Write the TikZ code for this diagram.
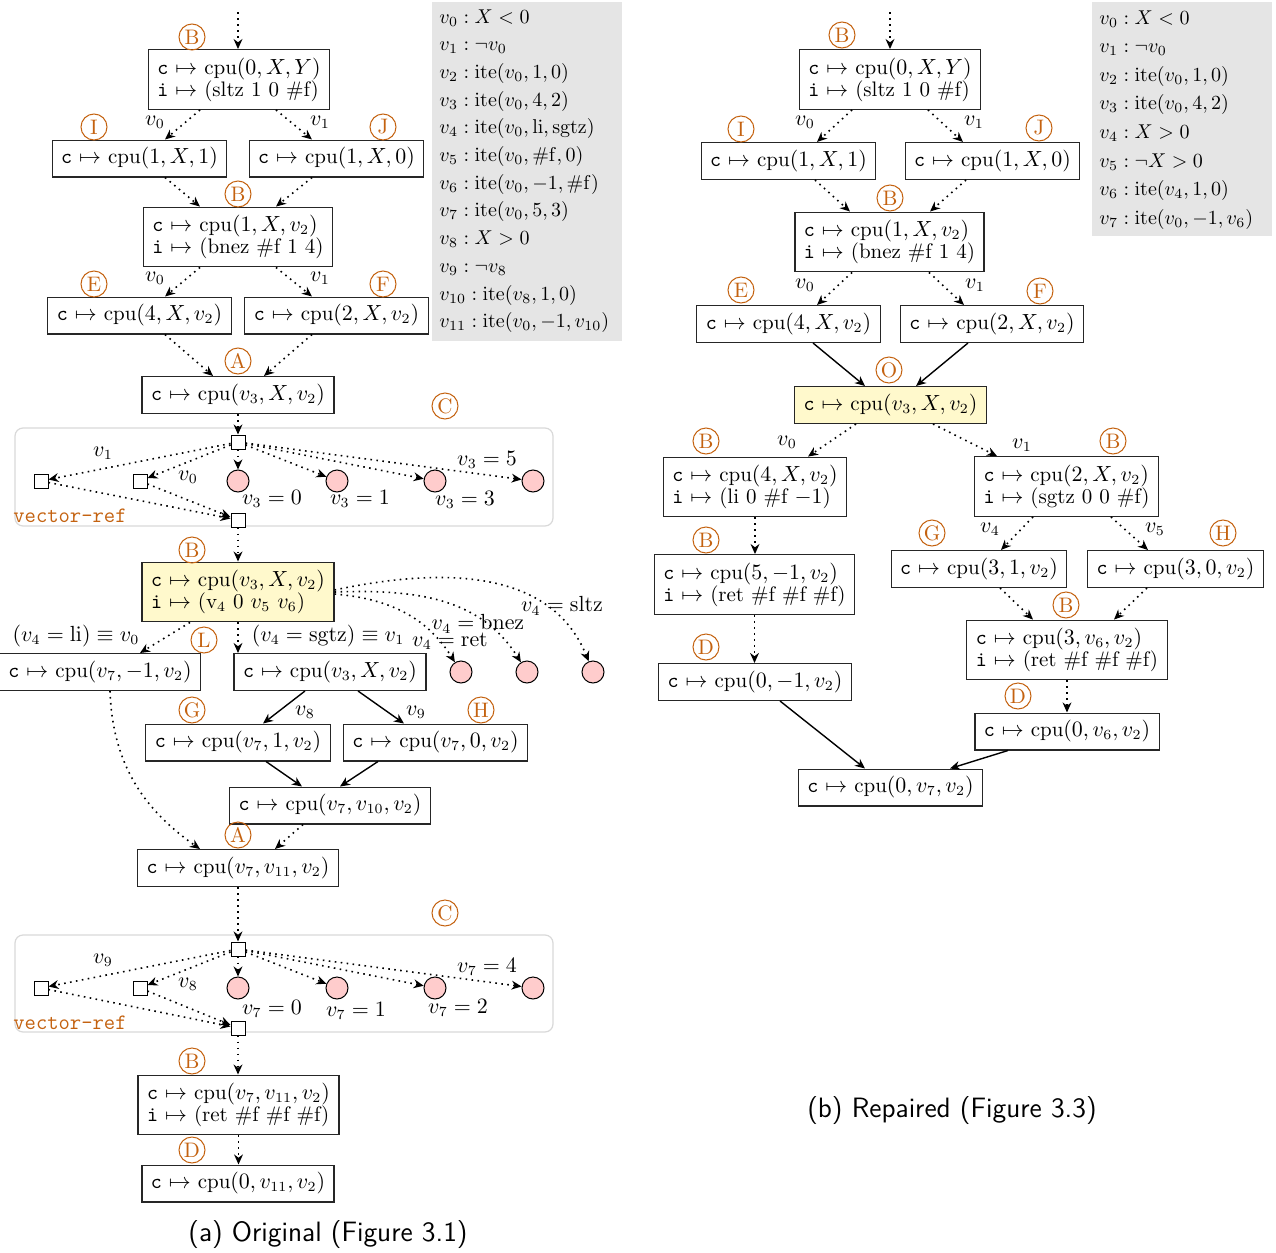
\documentclass[tikz,border=0pt]{standalone}
\usetikzlibrary{arrows.meta,calc}
\definecolor{labc}{RGB}{196,98,16}
\definecolor{yel}{RGB}{255,249,204}
\definecolor{legbg}{RGB}{229,229,229}
\definecolor{pinkc}{RGB}{255,204,204}
\newcommand\cMapTo{\texttt{c}~$\mapsto$~}
\newcommand\iMapTo{\texttt{i}~$\mapsto$~}
\tikzset{
  x=0.5pt, y=-0.5pt,
  base/.style={font=\fontsize{10.5}{11}\selectfont},
  box/.style={base, draw=black!85, line width=0.6pt, inner xsep=4.5pt, inner ysep=4pt, fill=white},
  sbox/.style={box, text height=7.8pt, text depth=2.6pt},
  dbox/.style={box, align=left},
  ybox/.style={fill=yel},
  lab/.style={circle, draw=labc, text=labc, line width=0.5pt, inner sep=0pt, minimum size=13pt, font=\fontsize{10.5}{11}\selectfont},
  el/.style={base, inner sep=0pt},
  arr/.style={-{Stealth[length=5pt,width=4.4pt,inset=1.6pt]}, line width=0.7pt},
  dotarr/.style={arr, dash pattern=on 0.8pt off 2.2pt, line width=0.8pt},
  vsq/.style={draw, fill=white, line width=0.5pt, minimum size=7pt, inner sep=0pt},
  pc/.style={circle, draw, fill=pinkc, line width=0.5pt, minimum size=11pt, inner sep=0pt},
  vrbox/.style={draw=black!15, fill=white, rounded corners=4pt, line width=0.6pt},
  vrlab/.style={font=\ttfamily\fontsize{11}{12}\selectfont, text=labc, inner sep=0pt},
  legline/.style={font=\fontsize{10.2}{11}\selectfont, inner sep=0pt, anchor=base west},
  capt/.style={font=\sffamily\fontsize{14}{16}\selectfont, inner sep=0pt}
}
\begin{document}
\begin{tikzpicture}
\useasboundingbox (0,0) rectangle (1276,1253);

% ---------------- legends ----------------
\fill[legbg] (432,2) rectangle (622,341);
\foreach \t [count=\k from 0] in {
  {$v_0 : X < 0$},
  {$v_1 : \neg v_0$},
  {$v_2 : \mathrm{ite}(v_0, 1, 0)$},
  {$v_3 : \mathrm{ite}(v_0, 4, 2)$},
  {$v_4 : \mathrm{ite}(v_0, \mathrm{li}, \mathrm{sgtz})$},
  {$v_5 : \mathrm{ite}(v_0, \mathrm{\#f}, 0)$},
  {$v_6 : \mathrm{ite}(v_0, -1, \mathrm{\#f})$},
  {$v_7 : \mathrm{ite}(v_0, 5, 3)$},
  {$v_8 : X > 0$},
  {$v_9 : \neg v_8$},
  {$v_{10} : \mathrm{ite}(v_8, 1, 0)$},
  {$v_{11} : \mathrm{ite}(v_0, -1, v_{10})$}}
  \node[legline] (legL\k) at (439, 23+27.7*\k) {\t};

\fill[legbg] (1092,2) rectangle (1272,236);
\foreach \t [count=\k from 0] in {
  {$v_0 : X < 0$},
  {$v_1 : \neg v_0$},
  {$v_2 : \mathrm{ite}(v_0, 1, 0)$},
  {$v_3 : \mathrm{ite}(v_0, 4, 2)$},
  {$v_4 : X > 0$},
  {$v_5 : \neg X > 0$},
  {$v_6 : \mathrm{ite}(v_4, 1, 0)$},
  {$v_7 : \mathrm{ite}(v_0, -1, v_6)$}}
  \node[legline] (legR\k) at (1099, 24+28.6*\k) {\t};

% ---------------- left panel ----------------
\node[dbox] (b1) at (239,79.5) {\cMapTo cpu$(0, X, Y)$\\ \iMapTo(sltz 1 0 \#f)};
\node[sbox] (i1) at (139.5,158.5) {\cMapTo cpu$(1, X, 1)$};
\node[sbox] (j1) at (336.5,158.5) {\cMapTo cpu$(1, X, 0)$};
\node[dbox] (b2) at (238,237) {\cMapTo cpu$(1, X, v_2)$\\ \iMapTo(bnez \#f 1 4)};
\node[sbox] (e1) at (139.5,315.5) {\cMapTo cpu$(4, X, v_2)$};
\node[sbox] (f1) at (336.5,315.5) {\cMapTo cpu$(2, X, v_2)$};
\node[sbox] (a1) at (238,395) {\cMapTo cpu$(v_3, X, v_2)$};

\node[lab] (lB1) at (192,37) {B};
\node[lab] (lI1) at (94,127) {I};
\node[lab] (lJ1) at (383,127) {J};
\node[lab] (lB2) at (238,194) {B};
\node[lab] (lE1) at (94,284) {E};
\node[lab] (lF1) at (383,284) {F};
\node[lab] (lA1) at (238,361) {A};

\coordinate (inL) at (238,12);
\draw[dotarr] (inL) -- (inL |- b1.north);
\draw[dotarr] ([xshift=-19.5pt]b1.south) -- ([xshift=12.75pt]i1.north);
\draw[dotarr] ([xshift=18.5pt]b1.south) -- ([xshift=-12.25pt]j1.north);
\draw[dotarr] ([xshift=12.75pt]i1.south) -- ([xshift=-19pt]b2.north);
\draw[dotarr] ([xshift=-12.25pt]j1.south) -- ([xshift=19pt]b2.north);
\draw[dotarr] ([xshift=-19pt]b2.south) -- ([xshift=12.75pt]e1.north);
\draw[dotarr] ([xshift=19pt]b2.south) -- ([xshift=-12.25pt]f1.north);
\draw[dotarr] ([xshift=12.75pt]e1.south) -- ([xshift=-12.5pt]a1.north);
\draw[dotarr] ([xshift=-12.25pt]f1.south) -- ([xshift=13pt]a1.north);
\node[el] (ev01) at (155,122) {$v_0$};
\node[el] (ev11) at (320,122) {$v_1$};
\node[el] (ev02) at (155,278) {$v_0$};
\node[el] (ev12) at (320,278) {$v_1$};

% vector-ref 1
\begin{scope}[shift={(238,442)}]
\draw[vrbox] (-223,-14) rectangle (315,84);
\node[vsq] (vaT) at (0,0) {};
\node[vsq] (vaL) at (-197,39) {};
\node[vsq] (vaS) at (-98,39) {};
\node[vsq] (vaB) at (0,78) {};
\node[pc] (vaP1) at (0,39) {};
\node[pc] (vaP2) at (99,39) {};
\node[pc] (vaP3) at (197,39) {};
\node[pc] (vaP4) at (295,39) {};
\node[el] (vaE1) at (-135,11) {$v_1$};
\node[el] (vaE2) at (-50,35) {$v_0$};
\node[el] (vaE3) at (34,57) {$v_3 = 0$};
\node[el] (vaE4) at (122,57) {$v_3 = 1$};
\node[el] (vaE5) at (227,58) {$v_3 = 3$};
\node[el] (vaE6) at (249,18) {$v_3 = 5$};
\node[vrlab] (vaN) at (-168,74) {vector-ref};
\node[lab] (vaC) at (207,-36) {C};
\draw[dotarr] (vaT) -- (vaL);
\draw[dotarr] (vaT) -- (vaS);
\draw[dotarr] (vaT) -- (vaP1);
\draw[dotarr] (vaT) -- (vaP2);
\draw[dotarr] (vaT) -- (vaP3);
\draw[dotarr] (vaT) -- (vaP4);
\draw[dotarr] (vaL) -- (vaB);
\draw[dotarr] (vaS) -- (vaB);
\end{scope}
\draw[dotarr] (a1.south) -- (vaT.north);

\node[dbox, ybox] (b3) at (238,592) {\cMapTo cpu$(v_3, X, v_2)$\\ \iMapTo(v$_4$ 0 $v_5$ $v_6$)};
\node[lab] (lB3) at (192,550) {B};
\draw[dotarr] (vaB.south) -- (b3.north);

\node[sbox] (l1) at (100,672) {\cMapTo cpu$(v_7, -1, v_2)$};
\node[sbox] (m1) at (330,672) {\cMapTo cpu$(v_3, X, v_2)$};
\node[lab] (lL1) at (204,640) {L};
\node[pc] (cR1) at (461,672) {};
\node[pc] (cR2) at (527,672) {};
\node[pc] (cR3) at (593,672) {};
\draw[dotarr] ([xshift=-24pt]b3.south) -- ([xshift=20pt]l1.north);
\draw[dotarr] (b3.south) -- (b3.south |- m1.north);
\draw[dotarr] ([yshift=-1pt]b3.east) to[out=-5,in=122] (cR1);
\draw[dotarr] (b3.east) to[out=2,in=122] (cR2);
\draw[dotarr] ([yshift=1pt]b3.east) to[out=12,in=112] (cR3);
\node[el] (eli) at (76,636) {$(v_4 = \mathrm{li}) \equiv v_0$};
\node[el] (esg) at (328,636) {$(v_4 = \mathrm{sgtz}) \equiv v_1$};
\node[el] (ert) at (450,641) {$v_4 = \mathrm{ret}$};
\node[el] (ebn) at (478,624) {$v_4 = \mathrm{bnez}$};
\node[el] (esl) at (562,606) {$v_4 = \mathrm{sltz}$};

\node[sbox] (g1) at (238,742.5) {\cMapTo cpu$(v_7, 1, v_2)$};
\node[sbox] (h1) at (435.5,742.5) {\cMapTo cpu$(v_7, 0, v_2)$};
\node[lab] (lG1) at (192,710) {G};
\node[lab] (lH1) at (481,710) {H};
\draw[arr] ([xshift=-12.5pt]m1.south) -- ([xshift=12.5pt]g1.north);
\draw[arr] ([xshift=14pt]m1.south) -- ([xshift=-15.75pt]h1.north);
\node[el] (ev8) at (305,712) {$v_8$};
\node[el] (ev9) at (416,712) {$v_9$};

\node[sbox] (t1) at (330,805.5) {\cMapTo cpu$(v_7, v_{10}, v_2)$};
\draw[arr] ([xshift=14pt]g1.south) -- ([xshift=-14pt]t1.north);
\draw[arr] ([xshift=-28.75pt]h1.south) -- ([xshift=5pt]t1.north);

\node[sbox] (a2) at (238,868) {\cMapTo cpu$(v_7, v_{11}, v_2)$};
\node[lab] (lA2) at (238,835) {A};
\draw[dotarr] ([xshift=-13.5pt]t1.south) -- ([xshift=18.5pt]a2.north);
\draw[dotarr] ([xshift=5pt]l1.south) to[out=-88,in=145] ([xshift=-19pt]a2.north);

% vector-ref 2
\begin{scope}[shift={(238,949)}]
\draw[vrbox] (-223,-14) rectangle (315,83);
\node[vsq] (vbT) at (0,0) {};
\node[vsq] (vbL) at (-197,39) {};
\node[vsq] (vbS) at (-98,39) {};
\node[vsq] (vbB) at (0,79) {};
\node[pc] (vbP1) at (0,39) {};
\node[pc] (vbP2) at (99,39) {};
\node[pc] (vbP3) at (197,39) {};
\node[pc] (vbP4) at (295,39) {};
\node[el] (vbE1) at (-135,11) {$v_9$};
\node[el] (vbE2) at (-50,35) {$v_8$};
\node[el] (vbE3) at (34,60) {$v_7 = 0$};
\node[el] (vbE4) at (118,62) {$v_7 = 1$};
\node[el] (vbE5) at (220,59) {$v_7 = 2$};
\node[el] (vbE6) at (249,18) {$v_7 = 4$};
\node[vrlab] (vbN) at (-168,74) {vector-ref};
\node[lab] (vbC) at (207,-36) {C};
\draw[dotarr] (vbT) -- (vbL);
\draw[dotarr] (vbT) -- (vbS);
\draw[dotarr] (vbT) -- (vbP1);
\draw[dotarr] (vbT) -- (vbP2);
\draw[dotarr] (vbT) -- (vbP3);
\draw[dotarr] (vbT) -- (vbP4);
\draw[dotarr] (vbL) -- (vbB);
\draw[dotarr] (vbS) -- (vbB);
\end{scope}
\draw[dotarr] (a2.south) -- (vbT.north);

\node[dbox] (b4) at (238.5,1105) {\cMapTo cpu$(v_7, v_{11}, v_2)$\\ \iMapTo(ret \#f \#f \#f)};
\node[lab] (lB4) at (192,1061) {B};
\draw[dotarr] (vbB.south) -- (vbB.south |- b4.north);
\node[sbox] (d1) at (238,1183.5) {\cMapTo cpu$(0, v_{11}, v_2)$};
\node[lab] (lD1) at (192,1150) {D};
\draw[dotarr] (b4.south) -- (b4.south |- d1.north);

\node[capt] (capA) at (328,1235) {(a) Original (Figure 3.1)};

% ---------------- right panel ----------------
\node[dbox] (rb1) at (890,79.5) {\cMapTo cpu$(0, X, Y)$\\ \iMapTo(sltz 1 0 \#f)};
\node[sbox] (ri) at (788.5,161) {\cMapTo cpu$(1, X, 1)$};
\node[sbox] (rj) at (992.5,161) {\cMapTo cpu$(1, X, 0)$};
\node[dbox] (rb2) at (889.5,242) {\cMapTo cpu$(1, X, v_2)$\\ \iMapTo(bnez \#f 1 4)};
\node[sbox] (re) at (788.5,324) {\cMapTo cpu$(4, X, v_2)$};
\node[sbox] (rf) at (992,324) {\cMapTo cpu$(2, X, v_2)$};
\node[sbox, ybox] (ro) at (890.5,405) {\cMapTo cpu$(v_3, X, v_2)$};

\node[lab] (rlB1) at (842,35) {B};
\node[lab] (rlI) at (741,129) {I};
\node[lab] (rlJ) at (1039,128) {J};
\node[lab] (rlB2) at (890,198) {B};
\node[lab] (rlE) at (741,290) {E};
\node[lab] (rlF) at (1040,291) {F};
\node[lab] (rlO) at (889,370) {O};

\coordinate (inR) at (890,12);
\draw[dotarr] (inR) -- (inR |- rb1.north);
\draw[dotarr] ([xshift=-19pt]rb1.south) -- ([xshift=14.25pt]ri.north);
\draw[dotarr] ([xshift=19pt]rb1.south) -- ([xshift=-14.75pt]rj.north);
\draw[dotarr] ([xshift=13.25pt]ri.south) -- ([xshift=-19.75pt]rb2.north);
\draw[dotarr] ([xshift=-13.25pt]rj.south) -- ([xshift=20.25pt]rb2.north);
\draw[dotarr] ([xshift=-18.75pt]rb2.south) -- ([xshift=14.25pt]re.north);
\draw[dotarr] ([xshift=19.75pt]rb2.south) -- ([xshift=-14pt]rf.north);
\draw[arr] ([xshift=12.25pt]re.south) -- ([xshift=-12.75pt]ro.north);
\draw[arr] ([xshift=-12pt]rf.south) -- ([xshift=12.75pt]ro.north);
\node[el] (rev01) at (805,122) {$v_0$};
\node[el] (rev11) at (974,122) {$v_1$};
\node[el] (rev02) at (805,285) {$v_0$};
\node[el] (rev12) at (975,285) {$v_1$};

\node[dbox] (rbl) at (755,487) {\cMapTo cpu$(4, X, v_2)$\\ \iMapTo(li 0 \#f $-1$)};
\node[dbox] (rbr) at (1066.5,486.5) {\cMapTo cpu$(2, X, v_2)$\\ \iMapTo(sgtz 0 0 \#f)};
\node[lab] (rlB3) at (706,441) {B};
\node[lab] (rlB4) at (1113,441) {B};
\draw[dotarr] ([xshift=-17.25pt]ro.south) -- ([xshift=26.5pt]rbl.north);
\draw[dotarr] ([xshift=21.25pt]ro.south) -- ([xshift=-34.75pt]rbr.north);
\node[el] (rev03) at (787,442) {$v_0$};
\node[el] (rev13) at (1022,445) {$v_1$};

\node[dbox] (rbl2) at (754.5,584.5) {\cMapTo cpu$(5, -1, v_2)$\\ \iMapTo(ret \#f \#f \#f)};
\node[lab] (rlB5) at (706,540) {B};
\draw[dotarr] (rbl.south) -- (rbl.south |- rbl2.north);
\node[sbox] (rdl) at (755,682) {\cMapTo cpu$(0, -1, v_2)$};
\node[lab] (rlD1) at (706,647) {D};
\draw[dotarr] (rbl2.south) -- (rbl2.south |- rdl.north);

\node[sbox] (rg) at (979,569) {\cMapTo cpu$(3, 1, v_2)$};
\node[sbox] (rh) at (1175.5,569) {\cMapTo cpu$(3, 0, v_2)$};
\node[lab] (rlG) at (932,533) {G};
\node[lab] (rlH) at (1223,533) {H};
\draw[dotarr] ([xshift=-16.75pt]rbr.south) -- ([xshift=11pt]rg.north);
\draw[dotarr] ([xshift=22.25pt]rbr.south) -- ([xshift=-13.75pt]rh.north);
\node[el] (rev4) at (990,529) {$v_4$};
\node[el] (rev5) at (1155,529) {$v_5$};

\node[dbox] (rbm) at (1067,650) {\cMapTo cpu$(3, v_6, v_2)$\\ \iMapTo(ret \#f \#f \#f)};
\node[lab] (rlB6) at (1066,605) {B};
\draw[dotarr] ([xshift=10.5pt]rg.south) -- ([xshift=-17pt]rbm.north);
\draw[dotarr] ([xshift=-14.25pt]rh.south) -- ([xshift=23.5pt]rbm.north);
\node[sbox] (rdm) at (1067,731.5) {\cMapTo cpu$(0, v_6, v_2)$};
\node[lab] (rlD2) at (1018,696) {D};
\draw[dotarr] (rbm.south) -- (rbm.south |- rdm.north);

\node[sbox] (rfin) at (890.5,787.5) {\cMapTo cpu$(0, v_7, v_2)$};
\draw[arr] ([xshift=12.5pt]rdl.south) -- ([xshift=-12.75pt]rfin.north);
\draw[arr] ([xshift=-29.5pt]rdm.south) -- ([xshift=29.75pt]rfin.north);

\node[capt] (capB) at (952,1111) {(b) Repaired (Figure 3.3)};
\end{tikzpicture}
\end{document}
